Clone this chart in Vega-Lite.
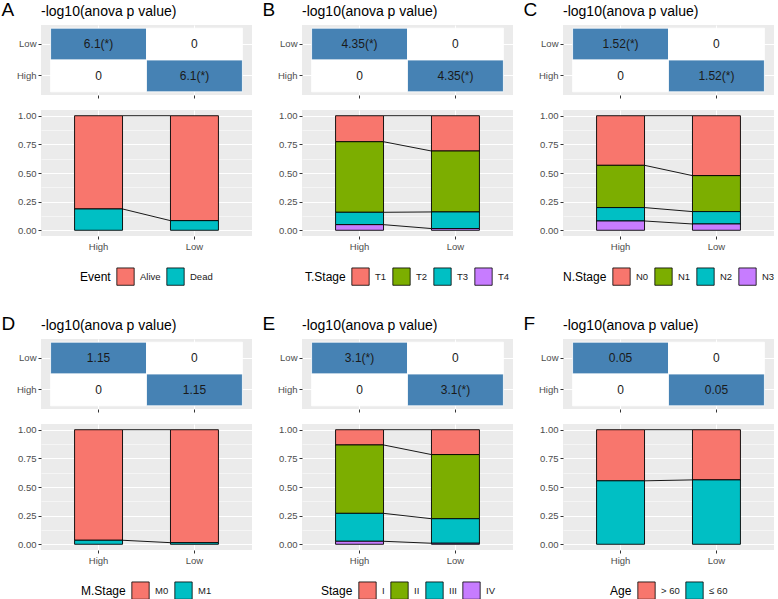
{
  "$schema": "https://vega.github.io/schema/vega-lite/v6.json",
  "padding": {"left": 1, "top": 1, "right": 0, "bottom": 0},
  "background": "white",
  "datasets": {
    "heat": [
      {"panel": "A", "col": "High", "row": "Low", "value": 6.1, "label": "6.1(*)"},
      {"panel": "A", "col": "Low", "row": "Low", "value": 0, "label": "0"},
      {"panel": "A", "col": "High", "row": "High", "value": 0, "label": "0"},
      {"panel": "A", "col": "Low", "row": "High", "value": 6.1, "label": "6.1(*)"},
      {"panel": "B", "col": "High", "row": "Low", "value": 4.35, "label": "4.35(*)"},
      {"panel": "B", "col": "Low", "row": "Low", "value": 0, "label": "0"},
      {"panel": "B", "col": "High", "row": "High", "value": 0, "label": "0"},
      {"panel": "B", "col": "Low", "row": "High", "value": 4.35, "label": "4.35(*)"},
      {"panel": "C", "col": "High", "row": "Low", "value": 1.52, "label": "1.52(*)"},
      {"panel": "C", "col": "Low", "row": "Low", "value": 0, "label": "0"},
      {"panel": "C", "col": "High", "row": "High", "value": 0, "label": "0"},
      {"panel": "C", "col": "Low", "row": "High", "value": 1.52, "label": "1.52(*)"},
      {"panel": "D", "col": "High", "row": "Low", "value": 1.15, "label": "1.15"},
      {"panel": "D", "col": "Low", "row": "Low", "value": 0, "label": "0"},
      {"panel": "D", "col": "High", "row": "High", "value": 0, "label": "0"},
      {"panel": "D", "col": "Low", "row": "High", "value": 1.15, "label": "1.15"},
      {"panel": "E", "col": "High", "row": "Low", "value": 3.1, "label": "3.1(*)"},
      {"panel": "E", "col": "Low", "row": "Low", "value": 0, "label": "0"},
      {"panel": "E", "col": "High", "row": "High", "value": 0, "label": "0"},
      {"panel": "E", "col": "Low", "row": "High", "value": 3.1, "label": "3.1(*)"},
      {"panel": "F", "col": "High", "row": "Low", "value": 0.05, "label": "0.05"},
      {"panel": "F", "col": "Low", "row": "Low", "value": 0, "label": "0"},
      {"panel": "F", "col": "High", "row": "High", "value": 0, "label": "0"},
      {"panel": "F", "col": "Low", "row": "High", "value": 0.05, "label": "0.05"}
    ],
    "bars": [
      {"panel": "A", "group": "High", "category": "Alive", "proportion": 0.814},
      {"panel": "A", "group": "High", "category": "Dead", "proportion": 0.186},
      {"panel": "A", "group": "Low", "category": "Alive", "proportion": 0.916},
      {"panel": "A", "group": "Low", "category": "Dead", "proportion": 0.084},
      {"panel": "B", "group": "High", "category": "T1", "proportion": 0.227},
      {"panel": "B", "group": "High", "category": "T2", "proportion": 0.616},
      {"panel": "B", "group": "High", "category": "T3", "proportion": 0.108},
      {"panel": "B", "group": "High", "category": "T4", "proportion": 0.049},
      {"panel": "B", "group": "Low", "category": "T1", "proportion": 0.308},
      {"panel": "B", "group": "Low", "category": "T2", "proportion": 0.532},
      {"panel": "B", "group": "Low", "category": "T3", "proportion": 0.145},
      {"panel": "B", "group": "Low", "category": "T4", "proportion": 0.015},
      {"panel": "C", "group": "High", "category": "N0", "proportion": 0.433},
      {"panel": "C", "group": "High", "category": "N1", "proportion": 0.369},
      {"panel": "C", "group": "High", "category": "N2", "proportion": 0.117},
      {"panel": "C", "group": "High", "category": "N3", "proportion": 0.081},
      {"panel": "C", "group": "Low", "category": "N0", "proportion": 0.523},
      {"panel": "C", "group": "Low", "category": "N1", "proportion": 0.314},
      {"panel": "C", "group": "Low", "category": "N2", "proportion": 0.108},
      {"panel": "C", "group": "Low", "category": "N3", "proportion": 0.055},
      {"panel": "D", "group": "High", "category": "M0", "proportion": 0.965},
      {"panel": "D", "group": "High", "category": "M1", "proportion": 0.035},
      {"panel": "D", "group": "Low", "category": "M0", "proportion": 0.986},
      {"panel": "D", "group": "Low", "category": "M1", "proportion": 0.014},
      {"panel": "E", "group": "High", "category": "I", "proportion": 0.133},
      {"panel": "E", "group": "High", "category": "II", "proportion": 0.597},
      {"panel": "E", "group": "High", "category": "III", "proportion": 0.244},
      {"panel": "E", "group": "High", "category": "IV", "proportion": 0.026},
      {"panel": "E", "group": "Low", "category": "I", "proportion": 0.217},
      {"panel": "E", "group": "Low", "category": "II", "proportion": 0.560},
      {"panel": "E", "group": "Low", "category": "III", "proportion": 0.214},
      {"panel": "E", "group": "Low", "category": "IV", "proportion": 0.009},
      {"panel": "F", "group": "High", "category": "> 60", "proportion": 0.446},
      {"panel": "F", "group": "High", "category": "≤ 60", "proportion": 0.554},
      {"panel": "F", "group": "Low", "category": "> 60", "proportion": 0.438},
      {"panel": "F", "group": "Low", "category": "≤ 60", "proportion": 0.562}
    ]
  },
  "spacing": 28,
  "resolve": {"scale": {"fill": "independent"}, "legend": {"fill": "independent"}},
  "vconcat": [
    {
      "spacing": 10,
      "resolve": {"scale": {"fill": "independent"}, "legend": {"fill": "independent"}},
      "hconcat": [
        {
          "title": {"text": "A", "anchor": "start", "frame": "bounds", "fontSize": 19, "fontWeight": "normal", "offset": -18, "dx": -15, "dy": -3},
          "spacing": 11,
          "resolve": {"scale": {"fill": "independent"}, "legend": {"fill": "independent"}},
          "vconcat": [
            {
              "width": 211, "height": 70,
              "title": {"text": "-log10(anova p value)", "anchor": "start", "frame": "group", "fontSize": 14, "fontWeight": "normal", "offset": 6},
              "data": {"name": "heat"},
              "transform": [{"filter": "datum.panel == 'A'"}],
              "encoding": {
                "x": {"field": "col", "type": "nominal", "sort": ["High", "Low"], "scale": {"paddingInner": 0, "paddingOuter": 0.1}, "axis": {"labels": false, "grid": true, "bandPosition": 0.5, "zindex": 0, "title": null}},
                "y": {"field": "row", "type": "nominal", "sort": ["Low", "High"], "scale": {"paddingInner": 0, "paddingOuter": 0.1}, "axis": {"grid": true, "bandPosition": 0.5, "zindex": 0, "title": null}}
              },
              "layer": [
                {"mark": {"type": "rect", "stroke": "white", "strokeWidth": 0.8}, "encoding": {"fill": {"condition": {"test": "datum.value > 0", "value": "#4682B4"}, "value": "white"}}},
                {"mark": {"type": "text", "fontSize": 12, "color": "#1a1a1a"}, "encoding": {"text": {"field": "label"}}}
              ]
            },
            {
              "width": 211, "height": 126,
              "data": {"name": "bars"},
              "transform": [{"filter": "datum.panel == 'A'"}],
              "resolve": {"axis": {"y": "independent"}},
              "layer": [
                {
                  "mark": {"type": "bar", "stroke": "black", "strokeWidth": 0.9, "width": {"band": 0.5}},
                  "encoding": {
                    "x": {"field": "group", "type": "nominal", "sort": ["High", "Low"], "scale": {"paddingInner": 0, "paddingOuter": 0.1}, "axis": {"labelAngle": 0, "grid": true, "bandPosition": 0.5, "zindex": 0, "title": null}},
                    "y": {"field": "proportion", "type": "quantitative", "stack": "zero", "scale": {"domain": [-0.05, 1.05], "nice": false, "zero": false}, "axis": {"values": [0, 0.25, 0.5, 0.75, 1], "format": ".2f", "grid": true, "zindex": 0, "title": null}},
                    "fill": {"field": "category", "type": "nominal", "scale": {"domain": ["Alive", "Dead"], "range": ["#F8766D", "#00BFC4"]}, "legend": {"title": "Event"}},
                    "order": {"field": "category", "sort": "descending"}
                  }
                },
                {
                  "transform": [
                    {"window": [{"op": "sum", "field": "proportion", "as": "cum"}], "groupby": ["group"], "sort": [{"field": "category", "order": "descending"}], "frame": [null, 0]},
                    {"pivot": "group", "value": "cum", "groupby": ["category"]}
                  ],
                  "mark": {"type": "rule", "color": "black", "strokeWidth": 0.9},
                  "encoding": {
                    "x": {"datum": "High", "type": "nominal", "bandPosition": 0.75, "title": null},
                    "x2": {"datum": "Low", "bandPosition": 0.25},
                    "y": {"field": "High", "type": "quantitative", "axis": {"orient": "right", "values": [0.125, 0.375, 0.625, 0.875], "labels": false, "ticks": false, "grid": true, "gridWidth": 0.5, "zindex": 0, "title": null}},
                    "y2": {"field": "Low"}
                  }
                }
              ]
            }
          ]
        },
        {
          "title": {"text": "B", "anchor": "start", "frame": "bounds", "fontSize": 19, "fontWeight": "normal", "offset": -18, "dx": -15, "dy": -3},
          "spacing": 11,
          "resolve": {"scale": {"fill": "independent"}, "legend": {"fill": "independent"}},
          "vconcat": [
            {
              "width": 211, "height": 70,
              "title": {"text": "-log10(anova p value)", "anchor": "start", "frame": "group", "fontSize": 14, "fontWeight": "normal", "offset": 6},
              "data": {"name": "heat"},
              "transform": [{"filter": "datum.panel == 'B'"}],
              "encoding": {
                "x": {"field": "col", "type": "nominal", "sort": ["High", "Low"], "scale": {"paddingInner": 0, "paddingOuter": 0.1}, "axis": {"labels": false, "grid": true, "bandPosition": 0.5, "zindex": 0, "title": null}},
                "y": {"field": "row", "type": "nominal", "sort": ["Low", "High"], "scale": {"paddingInner": 0, "paddingOuter": 0.1}, "axis": {"grid": true, "bandPosition": 0.5, "zindex": 0, "title": null}}
              },
              "layer": [
                {"mark": {"type": "rect", "stroke": "white", "strokeWidth": 0.8}, "encoding": {"fill": {"condition": {"test": "datum.value > 0", "value": "#4682B4"}, "value": "white"}}},
                {"mark": {"type": "text", "fontSize": 12, "color": "#1a1a1a"}, "encoding": {"text": {"field": "label"}}}
              ]
            },
            {
              "width": 211, "height": 126,
              "data": {"name": "bars"},
              "transform": [{"filter": "datum.panel == 'B'"}],
              "resolve": {"axis": {"y": "independent"}},
              "layer": [
                {
                  "mark": {"type": "bar", "stroke": "black", "strokeWidth": 0.9, "width": {"band": 0.5}},
                  "encoding": {
                    "x": {"field": "group", "type": "nominal", "sort": ["High", "Low"], "scale": {"paddingInner": 0, "paddingOuter": 0.1}, "axis": {"labelAngle": 0, "grid": true, "bandPosition": 0.5, "zindex": 0, "title": null}},
                    "y": {"field": "proportion", "type": "quantitative", "stack": "zero", "scale": {"domain": [-0.05, 1.05], "nice": false, "zero": false}, "axis": {"values": [0, 0.25, 0.5, 0.75, 1], "format": ".2f", "grid": true, "zindex": 0, "title": null}},
                    "fill": {"field": "category", "type": "nominal", "scale": {"domain": ["T1", "T2", "T3", "T4"], "range": ["#F8766D", "#7CAE00", "#00BFC4", "#C77CFF"]}, "legend": {"title": "T.Stage"}},
                    "order": {"field": "category", "sort": "descending"}
                  }
                },
                {
                  "transform": [
                    {"window": [{"op": "sum", "field": "proportion", "as": "cum"}], "groupby": ["group"], "sort": [{"field": "category", "order": "descending"}], "frame": [null, 0]},
                    {"pivot": "group", "value": "cum", "groupby": ["category"]}
                  ],
                  "mark": {"type": "rule", "color": "black", "strokeWidth": 0.9},
                  "encoding": {
                    "x": {"datum": "High", "type": "nominal", "bandPosition": 0.75, "title": null},
                    "x2": {"datum": "Low", "bandPosition": 0.25},
                    "y": {"field": "High", "type": "quantitative", "axis": {"orient": "right", "values": [0.125, 0.375, 0.625, 0.875], "labels": false, "ticks": false, "grid": true, "gridWidth": 0.5, "zindex": 0, "title": null}},
                    "y2": {"field": "Low"}
                  }
                }
              ]
            }
          ]
        },
        {
          "title": {"text": "C", "anchor": "start", "frame": "bounds", "fontSize": 19, "fontWeight": "normal", "offset": -18, "dx": -15, "dy": -3},
          "spacing": 11,
          "resolve": {"scale": {"fill": "independent"}, "legend": {"fill": "independent"}},
          "vconcat": [
            {
              "width": 211, "height": 70,
              "title": {"text": "-log10(anova p value)", "anchor": "start", "frame": "group", "fontSize": 14, "fontWeight": "normal", "offset": 6},
              "data": {"name": "heat"},
              "transform": [{"filter": "datum.panel == 'C'"}],
              "encoding": {
                "x": {"field": "col", "type": "nominal", "sort": ["High", "Low"], "scale": {"paddingInner": 0, "paddingOuter": 0.1}, "axis": {"labels": false, "grid": true, "bandPosition": 0.5, "zindex": 0, "title": null}},
                "y": {"field": "row", "type": "nominal", "sort": ["Low", "High"], "scale": {"paddingInner": 0, "paddingOuter": 0.1}, "axis": {"grid": true, "bandPosition": 0.5, "zindex": 0, "title": null}}
              },
              "layer": [
                {"mark": {"type": "rect", "stroke": "white", "strokeWidth": 0.8}, "encoding": {"fill": {"condition": {"test": "datum.value > 0", "value": "#4682B4"}, "value": "white"}}},
                {"mark": {"type": "text", "fontSize": 12, "color": "#1a1a1a"}, "encoding": {"text": {"field": "label"}}}
              ]
            },
            {
              "width": 211, "height": 126,
              "data": {"name": "bars"},
              "transform": [{"filter": "datum.panel == 'C'"}],
              "resolve": {"axis": {"y": "independent"}},
              "layer": [
                {
                  "mark": {"type": "bar", "stroke": "black", "strokeWidth": 0.9, "width": {"band": 0.5}},
                  "encoding": {
                    "x": {"field": "group", "type": "nominal", "sort": ["High", "Low"], "scale": {"paddingInner": 0, "paddingOuter": 0.1}, "axis": {"labelAngle": 0, "grid": true, "bandPosition": 0.5, "zindex": 0, "title": null}},
                    "y": {"field": "proportion", "type": "quantitative", "stack": "zero", "scale": {"domain": [-0.05, 1.05], "nice": false, "zero": false}, "axis": {"values": [0, 0.25, 0.5, 0.75, 1], "format": ".2f", "grid": true, "zindex": 0, "title": null}},
                    "fill": {"field": "category", "type": "nominal", "scale": {"domain": ["N0", "N1", "N2", "N3"], "range": ["#F8766D", "#7CAE00", "#00BFC4", "#C77CFF"]}, "legend": {"title": "N.Stage"}},
                    "order": {"field": "category", "sort": "descending"}
                  }
                },
                {
                  "transform": [
                    {"window": [{"op": "sum", "field": "proportion", "as": "cum"}], "groupby": ["group"], "sort": [{"field": "category", "order": "descending"}], "frame": [null, 0]},
                    {"pivot": "group", "value": "cum", "groupby": ["category"]}
                  ],
                  "mark": {"type": "rule", "color": "black", "strokeWidth": 0.9},
                  "encoding": {
                    "x": {"datum": "High", "type": "nominal", "bandPosition": 0.75, "title": null},
                    "x2": {"datum": "Low", "bandPosition": 0.25},
                    "y": {"field": "High", "type": "quantitative", "axis": {"orient": "right", "values": [0.125, 0.375, 0.625, 0.875], "labels": false, "ticks": false, "grid": true, "gridWidth": 0.5, "zindex": 0, "title": null}},
                    "y2": {"field": "Low"}
                  }
                }
              ]
            }
          ]
        }
      ]
    },
    {
      "spacing": 10,
      "resolve": {"scale": {"fill": "independent"}, "legend": {"fill": "independent"}},
      "hconcat": [
        {
          "title": {"text": "D", "anchor": "start", "frame": "bounds", "fontSize": 19, "fontWeight": "normal", "offset": -18, "dx": -15, "dy": -3},
          "spacing": 11,
          "resolve": {"scale": {"fill": "independent"}, "legend": {"fill": "independent"}},
          "vconcat": [
            {
              "width": 211, "height": 70,
              "title": {"text": "-log10(anova p value)", "anchor": "start", "frame": "group", "fontSize": 14, "fontWeight": "normal", "offset": 6},
              "data": {"name": "heat"},
              "transform": [{"filter": "datum.panel == 'D'"}],
              "encoding": {
                "x": {"field": "col", "type": "nominal", "sort": ["High", "Low"], "scale": {"paddingInner": 0, "paddingOuter": 0.1}, "axis": {"labels": false, "grid": true, "bandPosition": 0.5, "zindex": 0, "title": null}},
                "y": {"field": "row", "type": "nominal", "sort": ["Low", "High"], "scale": {"paddingInner": 0, "paddingOuter": 0.1}, "axis": {"grid": true, "bandPosition": 0.5, "zindex": 0, "title": null}}
              },
              "layer": [
                {"mark": {"type": "rect", "stroke": "white", "strokeWidth": 0.8}, "encoding": {"fill": {"condition": {"test": "datum.value > 0", "value": "#4682B4"}, "value": "white"}}},
                {"mark": {"type": "text", "fontSize": 12, "color": "#1a1a1a"}, "encoding": {"text": {"field": "label"}}}
              ]
            },
            {
              "width": 211, "height": 126,
              "data": {"name": "bars"},
              "transform": [{"filter": "datum.panel == 'D'"}],
              "resolve": {"axis": {"y": "independent"}},
              "layer": [
                {
                  "mark": {"type": "bar", "stroke": "black", "strokeWidth": 0.9, "width": {"band": 0.5}},
                  "encoding": {
                    "x": {"field": "group", "type": "nominal", "sort": ["High", "Low"], "scale": {"paddingInner": 0, "paddingOuter": 0.1}, "axis": {"labelAngle": 0, "grid": true, "bandPosition": 0.5, "zindex": 0, "title": null}},
                    "y": {"field": "proportion", "type": "quantitative", "stack": "zero", "scale": {"domain": [-0.05, 1.05], "nice": false, "zero": false}, "axis": {"values": [0, 0.25, 0.5, 0.75, 1], "format": ".2f", "grid": true, "zindex": 0, "title": null}},
                    "fill": {"field": "category", "type": "nominal", "scale": {"domain": ["M0", "M1"], "range": ["#F8766D", "#00BFC4"]}, "legend": {"title": "M.Stage"}},
                    "order": {"field": "category", "sort": "descending"}
                  }
                },
                {
                  "transform": [
                    {"window": [{"op": "sum", "field": "proportion", "as": "cum"}], "groupby": ["group"], "sort": [{"field": "category", "order": "descending"}], "frame": [null, 0]},
                    {"pivot": "group", "value": "cum", "groupby": ["category"]}
                  ],
                  "mark": {"type": "rule", "color": "black", "strokeWidth": 0.9},
                  "encoding": {
                    "x": {"datum": "High", "type": "nominal", "bandPosition": 0.75, "title": null},
                    "x2": {"datum": "Low", "bandPosition": 0.25},
                    "y": {"field": "High", "type": "quantitative", "axis": {"orient": "right", "values": [0.125, 0.375, 0.625, 0.875], "labels": false, "ticks": false, "grid": true, "gridWidth": 0.5, "zindex": 0, "title": null}},
                    "y2": {"field": "Low"}
                  }
                }
              ]
            }
          ]
        },
        {
          "title": {"text": "E", "anchor": "start", "frame": "bounds", "fontSize": 19, "fontWeight": "normal", "offset": -18, "dx": -15, "dy": -3},
          "spacing": 11,
          "resolve": {"scale": {"fill": "independent"}, "legend": {"fill": "independent"}},
          "vconcat": [
            {
              "width": 211, "height": 70,
              "title": {"text": "-log10(anova p value)", "anchor": "start", "frame": "group", "fontSize": 14, "fontWeight": "normal", "offset": 6},
              "data": {"name": "heat"},
              "transform": [{"filter": "datum.panel == 'E'"}],
              "encoding": {
                "x": {"field": "col", "type": "nominal", "sort": ["High", "Low"], "scale": {"paddingInner": 0, "paddingOuter": 0.1}, "axis": {"labels": false, "grid": true, "bandPosition": 0.5, "zindex": 0, "title": null}},
                "y": {"field": "row", "type": "nominal", "sort": ["Low", "High"], "scale": {"paddingInner": 0, "paddingOuter": 0.1}, "axis": {"grid": true, "bandPosition": 0.5, "zindex": 0, "title": null}}
              },
              "layer": [
                {"mark": {"type": "rect", "stroke": "white", "strokeWidth": 0.8}, "encoding": {"fill": {"condition": {"test": "datum.value > 0", "value": "#4682B4"}, "value": "white"}}},
                {"mark": {"type": "text", "fontSize": 12, "color": "#1a1a1a"}, "encoding": {"text": {"field": "label"}}}
              ]
            },
            {
              "width": 211, "height": 126,
              "data": {"name": "bars"},
              "transform": [{"filter": "datum.panel == 'E'"}],
              "resolve": {"axis": {"y": "independent"}},
              "layer": [
                {
                  "mark": {"type": "bar", "stroke": "black", "strokeWidth": 0.9, "width": {"band": 0.5}},
                  "encoding": {
                    "x": {"field": "group", "type": "nominal", "sort": ["High", "Low"], "scale": {"paddingInner": 0, "paddingOuter": 0.1}, "axis": {"labelAngle": 0, "grid": true, "bandPosition": 0.5, "zindex": 0, "title": null}},
                    "y": {"field": "proportion", "type": "quantitative", "stack": "zero", "scale": {"domain": [-0.05, 1.05], "nice": false, "zero": false}, "axis": {"values": [0, 0.25, 0.5, 0.75, 1], "format": ".2f", "grid": true, "zindex": 0, "title": null}},
                    "fill": {"field": "category", "type": "nominal", "scale": {"domain": ["I", "II", "III", "IV"], "range": ["#F8766D", "#7CAE00", "#00BFC4", "#C77CFF"]}, "legend": {"title": "Stage"}},
                    "order": {"field": "category", "sort": "descending"}
                  }
                },
                {
                  "transform": [
                    {"window": [{"op": "sum", "field": "proportion", "as": "cum"}], "groupby": ["group"], "sort": [{"field": "category", "order": "descending"}], "frame": [null, 0]},
                    {"pivot": "group", "value": "cum", "groupby": ["category"]}
                  ],
                  "mark": {"type": "rule", "color": "black", "strokeWidth": 0.9},
                  "encoding": {
                    "x": {"datum": "High", "type": "nominal", "bandPosition": 0.75, "title": null},
                    "x2": {"datum": "Low", "bandPosition": 0.25},
                    "y": {"field": "High", "type": "quantitative", "axis": {"orient": "right", "values": [0.125, 0.375, 0.625, 0.875], "labels": false, "ticks": false, "grid": true, "gridWidth": 0.5, "zindex": 0, "title": null}},
                    "y2": {"field": "Low"}
                  }
                }
              ]
            }
          ]
        },
        {
          "title": {"text": "F", "anchor": "start", "frame": "bounds", "fontSize": 19, "fontWeight": "normal", "offset": -18, "dx": -15, "dy": -3},
          "spacing": 11,
          "resolve": {"scale": {"fill": "independent"}, "legend": {"fill": "independent"}},
          "vconcat": [
            {
              "width": 211, "height": 70,
              "title": {"text": "-log10(anova p value)", "anchor": "start", "frame": "group", "fontSize": 14, "fontWeight": "normal", "offset": 6},
              "data": {"name": "heat"},
              "transform": [{"filter": "datum.panel == 'F'"}],
              "encoding": {
                "x": {"field": "col", "type": "nominal", "sort": ["High", "Low"], "scale": {"paddingInner": 0, "paddingOuter": 0.1}, "axis": {"labels": false, "grid": true, "bandPosition": 0.5, "zindex": 0, "title": null}},
                "y": {"field": "row", "type": "nominal", "sort": ["Low", "High"], "scale": {"paddingInner": 0, "paddingOuter": 0.1}, "axis": {"grid": true, "bandPosition": 0.5, "zindex": 0, "title": null}}
              },
              "layer": [
                {"mark": {"type": "rect", "stroke": "white", "strokeWidth": 0.8}, "encoding": {"fill": {"condition": {"test": "datum.value > 0", "value": "#4682B4"}, "value": "white"}}},
                {"mark": {"type": "text", "fontSize": 12, "color": "#1a1a1a"}, "encoding": {"text": {"field": "label"}}}
              ]
            },
            {
              "width": 211, "height": 126,
              "data": {"name": "bars"},
              "transform": [{"filter": "datum.panel == 'F'"}],
              "resolve": {"axis": {"y": "independent"}},
              "layer": [
                {
                  "mark": {"type": "bar", "stroke": "black", "strokeWidth": 0.9, "width": {"band": 0.5}},
                  "encoding": {
                    "x": {"field": "group", "type": "nominal", "sort": ["High", "Low"], "scale": {"paddingInner": 0, "paddingOuter": 0.1}, "axis": {"labelAngle": 0, "grid": true, "bandPosition": 0.5, "zindex": 0, "title": null}},
                    "y": {"field": "proportion", "type": "quantitative", "stack": "zero", "scale": {"domain": [-0.05, 1.05], "nice": false, "zero": false}, "axis": {"values": [0, 0.25, 0.5, 0.75, 1], "format": ".2f", "grid": true, "zindex": 0, "title": null}},
                    "fill": {"field": "category", "type": "nominal", "scale": {"domain": ["> 60", "≤ 60"], "range": ["#F8766D", "#00BFC4"]}, "legend": {"title": "Age"}},
                    "order": {"field": "category", "sort": "descending"}
                  }
                },
                {
                  "transform": [
                    {"window": [{"op": "sum", "field": "proportion", "as": "cum"}], "groupby": ["group"], "sort": [{"field": "category", "order": "descending"}], "frame": [null, 0]},
                    {"pivot": "group", "value": "cum", "groupby": ["category"]}
                  ],
                  "mark": {"type": "rule", "color": "black", "strokeWidth": 0.9},
                  "encoding": {
                    "x": {"datum": "High", "type": "nominal", "bandPosition": 0.75, "title": null},
                    "x2": {"datum": "Low", "bandPosition": 0.25},
                    "y": {"field": "High", "type": "quantitative", "axis": {"orient": "right", "values": [0.125, 0.375, 0.625, 0.875], "labels": false, "ticks": false, "grid": true, "gridWidth": 0.5, "zindex": 0, "title": null}},
                    "y2": {"field": "Low"}
                  }
                }
              ]
            }
          ]
        }
      ]
    }
  ],
  "config": {
    "font": "Liberation Sans",
    "view": {"fill": "#EBEBEB", "stroke": null},
    "axis": {"domain": false, "labelColor": "#4D4D4D", "labelFontSize": 9.5, "tickColor": "#333333", "tickSize": 3, "gridColor": "#FFFFFF", "gridWidth": 1, "labelPadding": 2},
    "title": {"color": "black"},
    "legend": {"orient": "bottom", "direction": "horizontal", "titleOrient": "left", "symbolType": "square", "symbolSize": 300, "symbolStrokeColor": "black", "symbolStrokeWidth": 0.8, "symbolOpacity": 1, "labelFontSize": 9.5, "labelColor": "#1a1a1a", "titleFontSize": 12, "titleFontWeight": "normal", "titleColor": "black", "columnPadding": 4, "labelOffset": 5, "titlePadding": 5, "offset": 16, "layout": {"bottom": {"anchor": "middle"}}}
  }
}
